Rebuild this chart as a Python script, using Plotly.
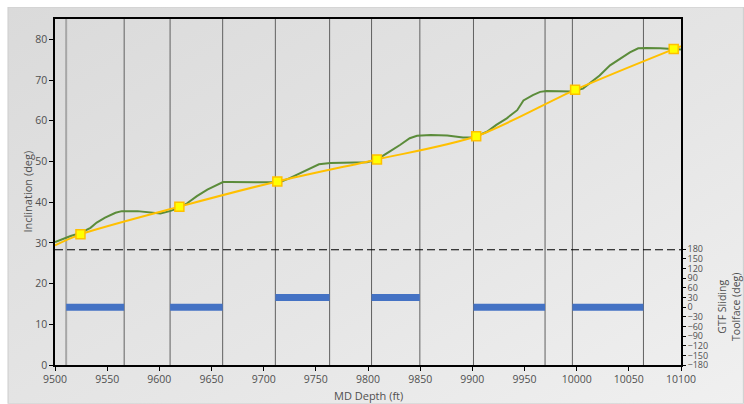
import base64
import plotly.graph_objects as go

# ---------------- data ----------------
# measured (continuous) inclination
md_meas = [9500, 9507, 9515, 9524, 9534, 9540, 9548, 9558, 9564, 9579, 9591, 9601,
           9610, 9619, 9627, 9636, 9646, 9655, 9661, 9668, 9681, 9700, 9711, 9717,
           9725, 9735, 9745, 9753, 9764, 9783, 9799, 9808, 9812, 9821, 9831, 9840,
           9847, 9860, 9876, 9891, 9901, 9914, 9923, 9933, 9943, 9949, 9958, 9965,
           9971, 9984, 9995, 10006, 10013, 10022, 10032, 10042, 10051, 10059, 10067,
           10080, 10093, 10100]
inc_meas = [30.2, 30.9, 31.7, 32.4, 33.7, 35.0, 36.2, 37.4, 37.8, 37.8, 37.4, 37.2,
            37.8, 38.6, 39.8, 41.5, 43.1, 44.3, 44.95, 44.95, 45.0, 44.9, 44.9, 45.1,
            45.9, 47.1, 48.4, 49.3, 49.6, 49.75, 49.8, 50.4, 51.0, 52.5, 54.1, 55.7,
            56.3, 56.5, 56.4, 55.9, 55.9, 57.3, 59.0, 60.6, 62.6, 65.0, 66.3, 67.1,
            67.3, 67.2, 67.2, 67.9, 69.3, 71.1, 73.6, 75.2, 76.8, 77.8, 77.9,
            77.8, 77.6, 77.5]

# survey stations
md_survey = [9524.4, 9619.2, 9713.1, 9808.6, 9903.7, 9998.5, 10093.0]
inc_survey = [32.1, 38.9, 45.1, 50.5, 56.2, 67.6, 77.6]

# interpolated survey trend (incl. ends)
md_trend = [9500, 9524.4, 9619.2, 9713.1, 9808.6, 9903.7, 9998.5, 10093.0, 10100]
inc_trend = [29.4, 32.1, 38.9, 45.1, 50.5, 56.2, 67.6, 77.6, 78.3]

# slide intervals and GTF sliding toolface
slide_start = [9510.7, 9610.3, 9711.2, 9803.4, 9901.1, 9995.9]
slide_end = [9566.3, 9660.7, 9763.2, 9849.7, 9969.7, 10064.0]
slide_tf = [0, 0, 30, 30, 0, 0]

x_ticks = list(range(9500, 10101, 50))
inc_ticks = list(range(0, 81, 10))
tf_ticks = list(range(-180, 181, 30))

# ---------------- figure ----------------
FONT = "Open Sans"
TXT = "#505050"
W, H = 744, 404
ML, MR, MT, MB = 54.5, 63, 16, 39
PW, PH = W - ML - MR, H - MT - MB


def px_x(px):
    return (px - ML) / PW


def px_y(py):
    return (H - MB - py) / PH


fig = go.Figure()

# slide bars on GTF axis
bx, by = [], []
for s, e, t in zip(slide_start, slide_end, slide_tf):
    bx += [s, e, None]
    by += [t, t, None]
fig.add_trace(go.Scatter(x=bx, y=by, mode="lines", yaxis="y2",
                         line=dict(color="#4472C4", width=7), hoverinfo="skip",
                         showlegend=False))

# measured inclination
fig.add_trace(go.Scatter(x=md_meas, y=inc_meas, mode="lines",
                         line=dict(color="#5B8C3A", width=2), showlegend=False))

# survey trend line
fig.add_trace(go.Scatter(x=md_trend, y=inc_trend, mode="lines",
                         line=dict(color="#FFC000", width=2, shape="spline", smoothing=0.8),
                         showlegend=False))

# survey markers
fig.add_trace(go.Scatter(x=md_survey, y=inc_survey, mode="markers",
                         marker=dict(symbol="square", size=9, color="#FFFF00",
                                     line=dict(color="#FFC000", width=1.5)),
                         showlegend=False))

shapes = []
edges = sorted(slide_start + slide_end)
for i, xv in enumerate(edges):
    first = (i == 0)
    shapes.append(dict(type="line", xref="x", yref="paper", x0=xv, x1=xv, y0=0, y1=1,
                       line=dict(color="#A6A6A6" if first else "#606060",
                                 width=2 if first else 1),
                       layer="below"))
shapes.append(dict(type="line", xref="paper", yref="y2", x0=0, x1=1, y0=180, y1=180,
                   line=dict(color="#000000", width=1.8, dash="8px,4px"), layer="above"))

svg = ("<svg xmlns='http://www.w3.org/2000/svg' width='100' height='100' "
       "preserveAspectRatio='none'><defs><linearGradient id='g' x1='0' y1='0' x2='1' y2='1'>"
       "<stop offset='0' stop-color='#dadada'/><stop offset='0.6' stop-color='#e6e6e6'/>"
       "<stop offset='1' stop-color='#f0f0f0'/></linearGradient></defs>"
       "<rect width='100' height='100' fill='url(#g)' stroke='#d0d0d0' stroke-width='0.3'/></svg>")
src = "data:image/svg+xml;base64," + base64.b64encode(svg.encode()).decode()

fig.update_layout(
    width=W, height=H,
    margin=dict(l=ML, r=MR, t=MT, b=MB),
    paper_bgcolor="white",
    plot_bgcolor="rgba(0,0,0,0)",
    font=dict(family=FONT, size=10.5, color=TXT),
    showlegend=False,
    shapes=shapes,
    images=[dict(source=src, xref="paper", yref="paper",
                 x=px_x(7), y=px_y(4), sizex=(W - 7) / PW, sizey=(H - 4) / PH,
                 xanchor="left", yanchor="top", sizing="stretch", layer="below")],
    xaxis=dict(range=[9500, 10100], tickvals=x_ticks, tickformat="d",
               ticks="outside", ticklen=4,
               tickcolor="black", showline=True, linecolor="black", linewidth=1.5,
               mirror=True, showgrid=False, zeroline=False,
               tickfont=dict(size=10.5, color=TXT)),
    yaxis=dict(range=[0, 85], tickvals=inc_ticks, ticks="outside", ticklen=4,
               tickcolor="black", showline=True, linecolor="black", linewidth=1.5,
               mirror=True, showgrid=False, zeroline=False,
               tickfont=dict(size=10.5, color=TXT)),
    yaxis2=dict(domain=[0, px_y(248.3)], anchor="x", side="right",
                range=[-180, 180], tickvals=tf_ticks, ticks="outside", ticklen=3,
                tickcolor="black", showline=True, linecolor="black", linewidth=1.5,
                showgrid=False, zeroline=False,
                tickfont=dict(size=9, color=TXT)),
    annotations=[
        dict(text="Inclination (deg)", xref="paper", yref="paper",
             x=px_x(26), y=0.5, textangle=-90, showarrow=False,
             xanchor="center", yanchor="middle", font=dict(size=11, color=TXT)),
        dict(text="MD Depth (ft)", xref="paper", yref="paper",
             x=0.5, y=px_y(396), showarrow=False,
             xanchor="center", yanchor="middle", font=dict(size=11, color=TXT)),
        dict(text="GTF Sliding<br>Toolface (deg)", xref="paper", yref="paper",
             x=px_x(729), y=px_y(306.5), textangle=-90, showarrow=False,
             xanchor="center", yanchor="middle", font=dict(size=10.5, color=TXT)),
    ],
)

fig.write_html("out.html",
               config={"displayModeBar": False},
               post_script="document.body.style.margin='0';"
                           "document.documentElement.style.overflow='hidden';")
